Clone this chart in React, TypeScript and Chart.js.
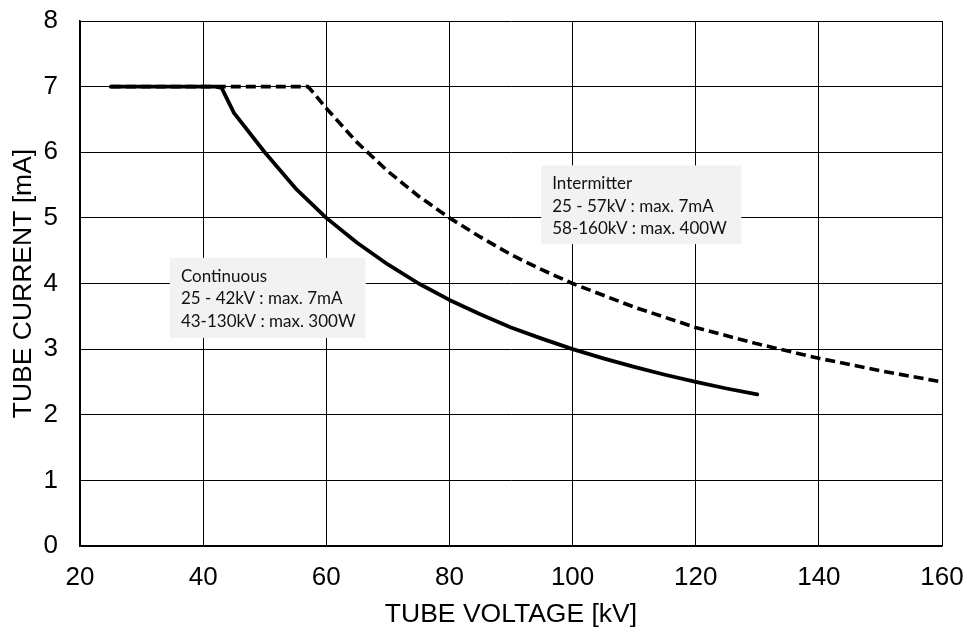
import React, { useEffect, useRef } from "react";
import { Chart, registerables } from "chart.js";

Chart.register(...registerables);

// Continuous rating curve
const contVoltage = [25, 42, 43, 45, 50, 55, 60, 65, 70, 75, 80, 85, 90, 95, 100, 105, 110, 115, 120, 125, 130];
const contCurrent = [7, 7, 6.98, 6.6, 6.0, 5.45, 5.0, 4.62, 4.29, 4.0, 3.75, 3.53, 3.33, 3.16, 3.0, 2.86, 2.73, 2.61, 2.5, 2.4, 2.31];

// Intermittent rating curve
const intVoltage = [25, 57, 58, 60, 65, 70, 75, 80, 85, 90, 95, 100, 110, 120, 130, 140, 150, 160];
const intCurrent = [7, 7, 6.9, 6.67, 6.15, 5.71, 5.33, 5.0, 4.71, 4.44, 4.21, 4.0, 3.64, 3.33, 3.08, 2.86, 2.67, 2.5];

const xTicks = [20, 40, 60, 80, 100, 120, 140, 160];
const yTicks = [0, 1, 2, 3, 4, 5, 6, 7, 8];

const noteContinuous = ["Continuous", "25 - 42kV : max. 7mA", "43-130kV : max. 300W"];
const noteIntermitter = ["Intermitter", "25 - 57kV : max. 7mA", "58-160kV : max. 400W"];

// annotation anchors in data units: [left, top, right, bottom]
const noteContinuousBox = [34.6, 4.39, 66.4, 3.17];
const noteIntermitterBox = [94.9, 5.8, 127.4, 4.6];

const toPoints = (xs: number[], ys: number[]) => xs.map((x, i) => ({ x, y: ys[i] }));

const notesPlugin = {
  id: "notes",
  afterDatasetsDraw(chart: any) {
    const { ctx, scales } = chart;
    const xs = scales.x;
    const ys = scales.y;
    const draw = (box: number[], lines: string[]) => {
      const l = xs.getPixelForValue(box[0]);
      const t = ys.getPixelForValue(box[1]);
      const r = xs.getPixelForValue(box[2]);
      const b = ys.getPixelForValue(box[3]);
      ctx.save();
      ctx.fillStyle = "#f2f2f2";
      ctx.fillRect(l, t, r - l, b - t);
      ctx.fillStyle = "#111";
      ctx.font = "17px Lato, 'Liberation Sans', sans-serif";
      ctx.textBaseline = "middle";
      ctx.textAlign = "left";
      const lh = 22.5;
      const startY = t + 18.5;
      lines.forEach((s, i) => ctx.fillText(s, l + 11, startY + i * lh));
      ctx.restore();
    };
    draw(noteContinuousBox, noteContinuous);
    draw(noteIntermitterBox, noteIntermitter);
  },
};

const clearPad = (s: any) => {
  s.paddingTop = 0;
  s.paddingBottom = 0;
  s.paddingLeft = 0;
  s.paddingRight = 0;
};

export default function App() {
  const ref = useRef<HTMLCanvasElement>(null);
  useEffect(() => {
    document.body.style.margin = "0";
    const font = "'Liberation Sans', Arial, sans-serif";
    const chart = new Chart(ref.current!, {
      type: "scatter",
      data: {
        datasets: [
          {
            label: "Continuous",
            data: toPoints(contVoltage, contCurrent),
            showLine: true,
            borderColor: "#000",
            borderWidth: 3.8,
            pointRadius: 0,
            tension: 0,
            borderCapStyle: "round",
            borderJoinStyle: "round",
            clip: false,
          } as any,
          {
            label: "Intermitter",
            data: toPoints(intVoltage, intCurrent),
            showLine: true,
            borderColor: "#000",
            borderWidth: 3.6,
            borderDash: [10, 5],
            pointRadius: 0,
            tension: 0,
            clip: false,
          } as any,
        ],
      },
      options: {
        animation: false,
        responsive: false,
        maintainAspectRatio: false,
        layout: { padding: { left: 0, right: 25, top: 21, bottom: 0 } },
        plugins: { legend: { display: false }, tooltip: { enabled: false } },
        scales: {
          x: {
            type: "linear",
            min: 20,
            max: 160,
            afterBuildTicks: (s: any) => {
              s.ticks = xTicks.map((v) => ({ value: v }));
            },
            afterFit: (s: any) => {
              s.height = 86;
              clearPad(s);
            },
            grid: { color: "#000", lineWidth: 1, drawTicks: false },
            border: { color: "#000", width: 1.5 },
            ticks: { color: "#000", font: { family: font, size: 26 }, padding: 16 },
            title: {
              display: true,
              text: "TUBE VOLTAGE [kV]",
              color: "#000",
              font: { family: font, size: 26.5 },
              padding: { top: 0, bottom: 1 },
            },
          },
          y: {
            type: "linear",
            min: 0,
            max: 8,
            afterBuildTicks: (s: any) => {
              s.ticks = yTicks.map((v) => ({ value: v }));
            },
            afterFit: (s: any) => {
              s.width = 80;
              clearPad(s);
            },
            grid: { color: "#000", lineWidth: 1, drawTicks: false },
            border: { color: "#000", width: 1.5 },
            ticks: { color: "#000", font: { family: font, size: 26 }, padding: 22 },
            title: {
              display: true,
              text: "TUBE CURRENT [mA]",
              color: "#000",
              font: { family: font, size: 26.5 },
              padding: { top: 8, bottom: 0 },
            },
          },
        },
      },
      plugins: [notesPlugin],
    });
    return () => chart.destroy();
  }, []);
  return (
    <div style={{ width: 967, height: 632, background: "#fff" }}>
      <canvas ref={ref} width={967} height={632} style={{ display: "block" }} />
    </div>
  );
}
